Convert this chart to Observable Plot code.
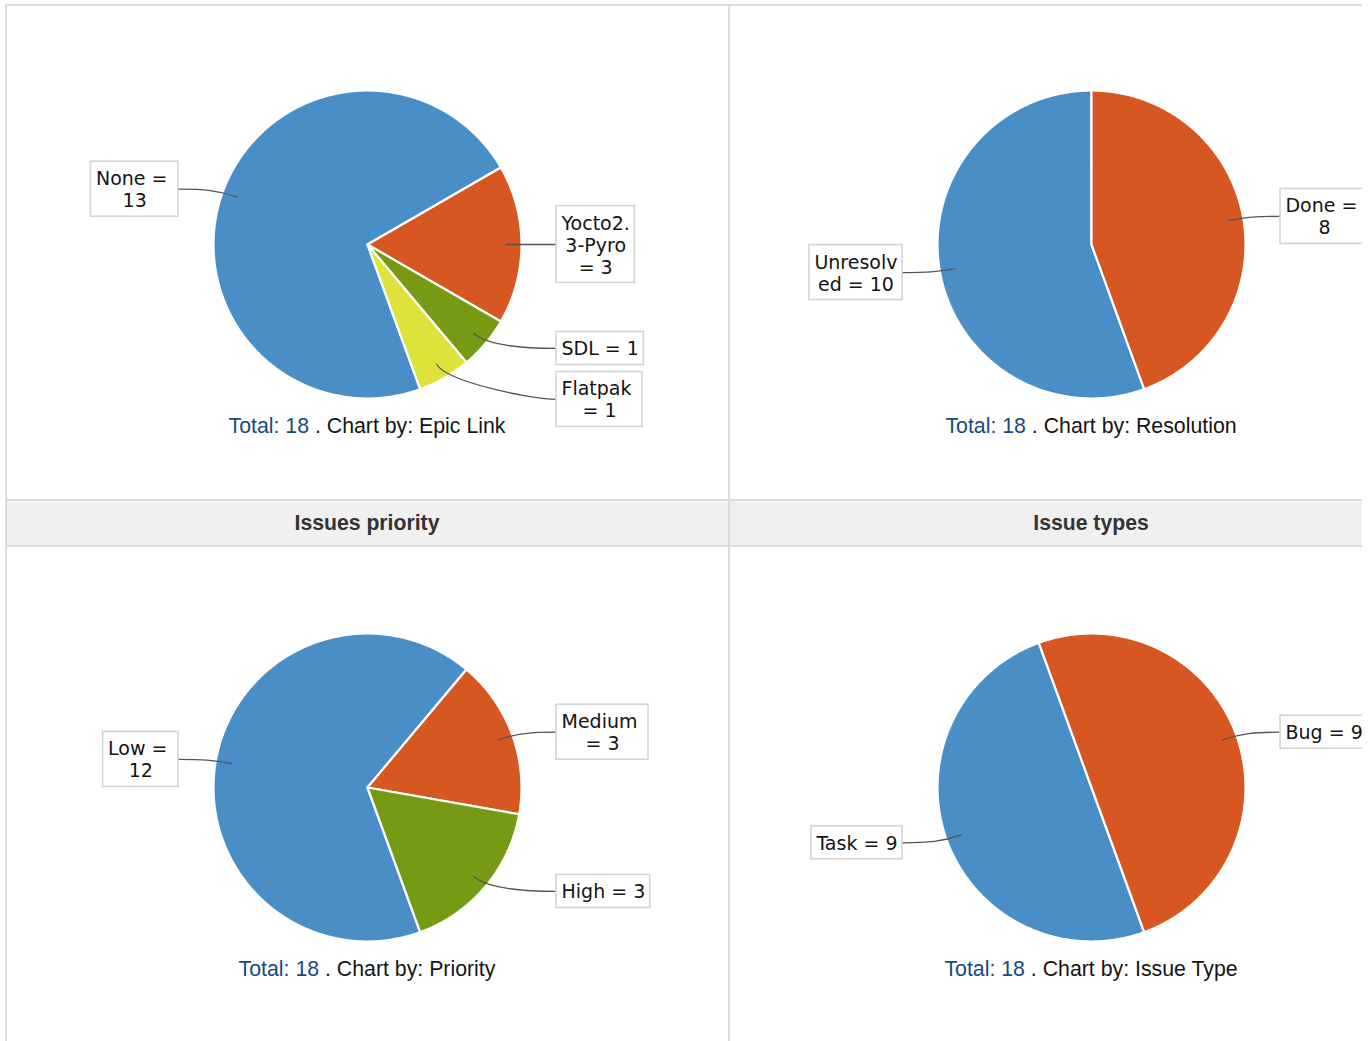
<!DOCTYPE html>
<html>
<head>
<meta charset="utf-8">
<script src="https://cdn.jsdelivr.net/npm/d3@7"></script>
<script src="https://cdn.jsdelivr.net/npm/@observablehq/plot@0.6"></script>
<style>
  body { margin: 0; background: #fff; font-family: "Liberation Sans", Arial, sans-serif; }
  #page { position: relative; width: 1368px; height: 1041px; overflow: hidden; background: #fff; }
  .caption { position: absolute; width: 720px; text-align: center; font-size: 21.3px; line-height: 26px; color: #151515; }
  .caption .total { color: #174a7d; }
  .hdrtext { position: absolute; width: 720px; text-align: center; font-size: 21.2px; font-weight: bold; color: #333; height: 44px; line-height: 44px; }
  .chart { position: absolute; }
</style>
</head>
<body>
<div id="page"></div>
<script>
// ---------- data ----------
const epicCategories = ["None", "Yocto2.3-Pyro", "SDL", "Flatpak"];
const epicValues = [13, 3, 1, 1];
const epicLabels = ["None = \n13", "Yocto2.\n3-Pyro\n= 3", "SDL = 1", "Flatpak \n= 1"];

const resolutionCategories = ["Unresolved", "Done"];
const resolutionValues = [10, 8];
const resolutionLabels = ["Unresolv\ned = 10", "Done = \n8"];

const priorityCategories = ["Low", "Medium", "High"];
const priorityValues = [12, 3, 3];
const priorityLabels = ["Low = \n12", "Medium \n= 3", "High = 3"];

const typeCategories = ["Task", "Bug"];
const typeValues = [9, 9];
const typeLabels = ["Task = 9", "Bug = 9"];

const sliceColors = ["#4a8ec7", "#d75722", "#779a14", "#dee33b"];
const headerTitles = ["Issues priority", "Issue types"];
const chartByFields = ["Epic Link", "Resolution", "Priority", "Issue Type"];

// ---------- helpers ----------
const page = document.getElementById("page");
function addDiv(parent, css, html, cls) {
  const d = document.createElement("div");
  if (css) d.style.cssText = css;
  if (cls) d.className = cls;
  if (html != null) d.innerHTML = html;
  parent.appendChild(d);
  return d;
}

function cubicCurve(context) {
  let pts = [];
  return {
    areaStart() {}, areaEnd() {},
    lineStart() { pts = []; },
    point(x, y) { pts.push([+x, +y]); },
    lineEnd() {
      if (pts.length === 4) {
        context.moveTo(pts[0][0], pts[0][1]);
        context.bezierCurveTo(pts[1][0], pts[1][1], pts[2][0], pts[2][1], pts[3][0], pts[3][1]);
      } else if (pts.length) {
        context.moveTo(pts[0][0], pts[0][1]);
        for (let i = 1; i < pts.length; i++) context.lineTo(pts[i][0], pts[i][1]);
      }
    }
  };
}

const measureCtx = document.createElement("canvas").getContext("2d");
measureCtx.font = "19px 'DejaVu Sans'";
const measure = s => measureCtx.measureText(s).width;

function pieChart(cats, vals, labels) {
  const R = 154, W = 720, H = 400;
  const deg = Math.PI / 180;
  const arcs = d3.pie().sort(null).startAngle(160 * deg).endAngle(520 * deg)(vals);

  const slicePts = [];
  arcs.forEach((a, i) => {
    const n = Math.max(2, Math.ceil((a.endAngle - a.startAngle) / (0.5 * deg)));
    slicePts.push({cat: cats[i], x: 0, y: 0});
    for (let k = 0; k <= n; k++) {
      const t = a.startAngle + (a.endAngle - a.startAngle) * k / n;
      slicePts.push({cat: cats[i], x: R * Math.sin(t), y: R * Math.cos(t)});
    }
    slicePts.push({cat: cats[i], x: 0, y: 0});
  });

  const LH = 22, PAD = 5, GAP = 7, LX = 189;
  const boxes = arcs.map((a, i) => {
    const mid = (a.startAngle + a.endAngle) / 2;
    const side = Math.sin(mid) >= 0 ? 1 : -1;
    const lines = labels[i].split("\n");
    const w = d3.max(lines, measure) + 2 * PAD;
    const h = lines.length * LH + 11;
    return {i, mid, side, lines, w, h, yc: -Math.cos(mid) * R * 1.05};
  });
  for (const side of [-1, 1]) {
    const group = boxes.filter(b => b.side === side).sort((p, q) => p.yc - q.yc);
    for (let k = 1; k < group.length; k++) {
      const prev = group[k - 1], cur = group[k];
      const minC = prev.yc + prev.h / 2 + GAP + cur.h / 2;
      if (cur.yc < minC) cur.yc = minC;
    }
  }
  const rects = boxes.map(b => {
    const x1 = b.side > 0 ? LX : -LX - b.w;
    return {x1, x2: x1 + b.w, y1: -b.yc - b.h / 2, y2: -b.yc + b.h / 2,
            cx: x1 + b.w / 2, cy: -b.yc, text: b.lines.join("\n")};
  });
  const linkPts = [];
  boxes.forEach(b => {
    const s = Math.sin(b.mid), c = Math.cos(b.mid);
    linkPts.push({id: b.i, x: 0.9 * R * s, y: 0.9 * R * c});
    linkPts.push({id: b.i, x: 1.03 * R * s, y: 1.03 * R * c});
    linkPts.push({id: b.i, x: b.side * (LX - 25), y: -b.yc});
    linkPts.push({id: b.i, x: b.side * LX, y: -b.yc});
  });

  return Plot.plot({
    width: W, height: H, margin: 0,
    x: {domain: [-W / 2, W / 2], axis: null},
    y: {domain: [-H / 2, H / 2], axis: null},
    color: {domain: cats, range: sliceColors},
    style: {background: "transparent", overflow: "visible"},
    marks: [
      Plot.line(slicePts, {x: "x", y: "y", z: "cat", fill: "cat", stroke: "#ffffff", strokeWidth: 2.2, strokeLinejoin: "round", curve: "linear"}),
      Plot.line(linkPts, {x: "x", y: "y", z: "id", curve: cubicCurve, stroke: "#555555", strokeWidth: 1.3}),
      Plot.rect(rects, {x1: "x1", x2: "x2", y1: "y1", y2: "y2", fill: "#ffffff", stroke: "#d4d4d4", strokeWidth: 1.6}),
      Plot.text(rects, {x: "cx", y: "cy", text: "text", fontSize: 19, fontFamily: "DejaVu Sans", lineHeight: LH / 19, fill: "#141414", textAnchor: "middle"})
    ]
  });
}

// ---------- layout ----------
addDiv(page, "position:absolute;left:7px;top:499px;width:1355px;height:44px;border-top:2px solid #dcdcdc;border-bottom:2px solid #dcdcdc;background:#f0f0f0");

const leftCol = addDiv(page, "position:absolute;left:0;top:0;width:728px;height:1041px;overflow:hidden");
const rightCol = addDiv(page, "position:absolute;left:730px;top:0;width:632px;height:1041px;overflow:hidden");

addDiv(leftCol, `left:${367 - 360}px;top:501px`, headerTitles[0], "hdrtext");
addDiv(rightCol, `left:${361 - 360}px;top:501px`, headerTitles[1], "hdrtext");

const gadgets = [
  {col: leftCol, cx: 367, cy: 244, cats: epicCategories, vals: epicValues, labels: epicLabels, field: chartByFields[0]},
  {col: rightCol, cx: 361, cy: 244, cats: resolutionCategories, vals: resolutionValues, labels: resolutionLabels, field: chartByFields[1]},
  {col: leftCol, cx: 367, cy: 787, cats: priorityCategories, vals: priorityValues, labels: priorityLabels, field: chartByFields[2]},
  {col: rightCol, cx: 361, cy: 787, cats: typeCategories, vals: typeValues, labels: typeLabels, field: chartByFields[3]}
];

for (const g of gadgets) {
  const holder = addDiv(g.col, `left:${g.cx - 360}px;top:${g.cy - 200}px;width:720px;height:400px`, null, "chart");
  holder.appendChild(pieChart(g.cats, g.vals, g.labels));
  const total = d3.sum(g.vals);
  addDiv(g.col, `left:${g.cx - 360}px;top:${g.cy + 169}px`,
    `<span class="total">Total: ${total}</span> . Chart by: ${g.field}`, "caption");
}

// frame lines on top
addDiv(page, "position:absolute;left:5px;top:4px;width:1357px;height:2px;background:#dcdcdc");
addDiv(page, "position:absolute;left:5px;top:4px;width:2px;height:1040px;background:#dcdcdc");
addDiv(page, "position:absolute;left:728px;top:4px;width:2px;height:1040px;background:#dcdcdc");
</script>
</body>
</html>
